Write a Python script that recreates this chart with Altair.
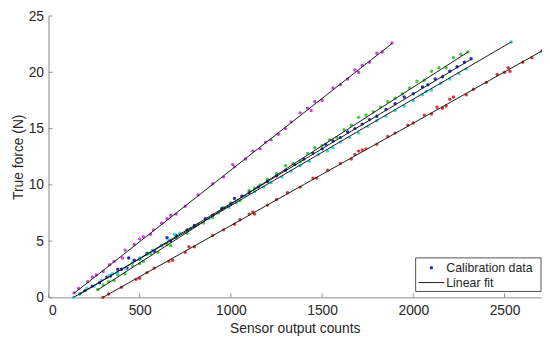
import altair as alt
import pandas as pd

# ---- data ----
purple_x = [140, 165, 215, 240, 262, 300, 335, 360, 405, 420, 470, 500, 520, 560, 575, 620, 650, 670, 700, 750,
            820, 900, 960, 1010, 1020, 1080, 1120, 1160, 1190, 1220, 1260, 1300, 1330, 1380, 1420, 1440, 1460, 1500,
            1560, 1600, 1640, 1680, 1700, 1720, 1760, 1800, 1830, 1883]
purple_y = [0.4, 0.8, 1.4, 1.8, 2.0, 2.3, 2.9, 3.2, 3.5, 4.2, 4.7, 5.2, 5.4, 5.6, 6.0, 6.6, 7.0, 7.3, 7.4, 8.1,
            9.1, 10.1, 10.7, 11.8, 11.6, 12.3, 13.0, 13.2, 13.8, 14.0, 14.5, 15.0, 15.6, 16.4, 16.8, 16.6, 17.4, 17.5,
            18.6, 18.9, 19.4, 20.2, 20.0, 20.6, 20.9, 21.7, 21.8, 22.6]

green_x = [270, 300, 330, 360, 380, 420, 460, 500, 520, 560, 600, 650, 670, 700, 760, 800, 850, 900, 960, 1000,
           1050, 1100, 1130, 1160, 1200, 1250, 1300, 1340, 1380, 1420, 1460, 1500, 1540, 1580, 1620, 1660, 1700,
           1740, 1780, 1820, 1860, 1900, 1940, 1980, 2020, 2060, 2100, 2140, 2180, 2220, 2260, 2299]
green_y = [0.7, 1.1, 1.4, 1.5, 2.0, 2.1, 2.8, 3.0, 3.2, 3.9, 4.0, 4.7, 4.6, 5.3, 5.7, 6.3, 6.6, 7.1, 8.0, 8.4,
           8.6, 9.5, 9.7, 10.0, 10.5, 11.0, 11.7, 11.9, 12.1, 12.8, 13.3, 13.5, 14.0, 14.2, 14.9, 15.3, 16.0,
           16.2, 16.5, 16.9, 17.4, 17.7, 18.1, 18.6, 19.2, 19.3, 20.1, 20.4, 20.4, 21.3, 21.6, 21.8]

blue_x = [171, 200, 240, 280, 320, 340, 380, 400, 430, 440, 470, 500, 540, 580, 620, 650, 670, 700, 760, 800,
          860, 900, 950, 1000, 1020, 1060, 1100, 1150, 1200, 1250, 1300, 1350, 1400, 1450, 1500, 1520, 1560, 1600,
          1640, 1680, 1720, 1760, 1800, 1850, 1900, 1950, 2000, 2050, 2080, 2120, 2160, 2200, 2240, 2280, 2317]
blue_y = [0.3, 0.6, 1.0, 1.3, 1.8, 1.9, 2.5, 2.5, 2.6, 3.5, 3.3, 3.4, 3.9, 4.1, 4.6, 5.3, 5.0, 5.5, 6.0, 6.4,
          7.0, 7.3, 7.9, 8.3, 8.8, 9.0, 9.3, 9.8, 10.3, 10.8, 11.3, 11.8, 12.3, 12.8, 13.2, 13.6, 13.9, 14.2,
          14.7, 15.0, 15.4, 15.8, 16.1, 16.7, 17.2, 17.8, 18.1, 18.7, 18.9, 19.4, 19.6, 20.1, 20.5, 20.9, 21.2]

cyan_x = [137, 170, 210, 250, 290, 330, 350, 380, 420, 460, 500, 540, 570, 620, 660, 690, 720, 780, 820, 880,
          930, 990, 1030, 1080, 1130, 1180, 1220, 1280, 1330, 1380, 1430, 1480, 1530, 1560, 1600, 1650, 1700,
          1750, 1800, 1850, 1900, 1950, 2000, 2050, 2070, 2100, 2150, 2200, 2250, 2290, 2537]
cyan_y = [0.0, 0.3, 0.8, 1.0, 1.5, 1.9, 2.1, 2.2, 2.6, 3.1, 3.5, 3.8, 4.2, 4.6, 5.1, 5.6, 5.7, 6.1, 6.5, 7.0,
          7.5, 8.0, 8.4, 9.0, 9.4, 9.8, 10.2, 10.7, 11.2, 11.7, 12.1, 12.7, 13.0, 13.3, 13.8, 14.2, 14.6,
          15.2, 15.7, 16.1, 16.6, 17.0, 17.5, 18.0, 18.3, 18.4, 19.0, 19.4, 19.9, 20.3, 22.7]

red_x = [298, 330, 400, 480, 500, 540, 580, 660, 680, 750, 770, 800, 900, 960, 1020, 1050, 1100, 1120, 1130,
         1200, 1250, 1310, 1380, 1450, 1470, 1530, 1600, 1660, 1680, 1700, 1720, 1740, 1800, 1860, 1900, 1970,
         2000, 2060, 2100, 2130, 2160, 2180, 2200, 2220, 2290, 2330, 2400, 2460, 2500, 2520, 2530, 2600, 2650, 2705]
red_y = [0.0, 0.3, 0.9, 1.6, 1.7, 2.2, 2.6, 3.2, 3.3, 4.0, 4.5, 4.5, 5.5, 6.0, 6.5, 6.9, 7.4, 7.6, 7.4,
         8.2, 8.7, 9.3, 9.8, 10.6, 10.6, 11.3, 11.9, 12.3, 12.7, 13.0, 13.1, 13.2, 13.6, 14.3, 14.6, 15.3,
         15.5, 16.2, 16.3, 16.9, 16.8, 17.0, 17.6, 17.8, 18.0, 18.5, 19.1, 19.8, 20.0, 20.4, 20.1, 20.9, 21.3, 21.9]

# linear fit end points per series
fit_series = ["purple", "green", "blue", "cyan", "red"]
fit_x0 = [140, 267, 171, 137, 298]
fit_y0 = [0.36, 0.64, 0.26, 0.0, 0.0]
fit_x1 = [1883, 2299, 2317, 2537, 2705]
fit_y1 = [22.56, 21.8, 21.17, 22.7, 21.9]

series_names = ["purple", "green", "blue", "cyan", "red"]
series_colors = ["#cc44dd", "#3fcc3f", "#2b2bb5", "#33d8e0", "#dd3838"]

x_ticks = [0, 500, 1000, 1500, 2000, 2500]
y_ticks = [0, 5, 10, 15, 20, 25]

# ---- tables ----
rows = []
for name, xs, ys in [("purple", purple_x, purple_y), ("green", green_x, green_y),
                     ("blue", blue_x, blue_y), ("cyan", cyan_x, cyan_y), ("red", red_x, red_y)]:
    for a, b in zip(xs, ys):
        rows.append({"series": name, "x": a, "y": b})
pts = pd.DataFrame(rows)

fit = pd.DataFrame({"series": fit_series, "x": fit_x0, "y": fit_y0, "x2": fit_x1, "y2": fit_y1})

W, H = 499, 285
xscale = alt.Scale(domain=[0, 2700], nice=False, zero=False)
yscale = alt.Scale(domain=[0, 25], nice=False, zero=False)

axis_common = dict(ticks=False, grid=False, domainColor="#8a8a8a", domainWidth=1,
                   labelColor="#262626", titleColor="#262626", labelFont="Liberation Sans",
                   titleFont="Liberation Sans", labelFontSize=14, titleFontSize=14,
                   titleFontWeight="normal", format="d")

points = alt.Chart(pts).mark_circle(size=12, opacity=1).encode(
    x=alt.X("x:Q", scale=xscale, axis=alt.Axis(values=x_ticks, title="Sensor output counts",
                                                labelPadding=6, titlePadding=5, **axis_common)),
    y=alt.Y("y:Q", scale=yscale, axis=alt.Axis(values=y_ticks, title="True force (N)",
                                                labelPadding=5, titlePadding=3, **axis_common)),
    color=alt.Color("series:N", scale=alt.Scale(domain=series_names, range=series_colors), legend=None),
)

lines = alt.Chart(fit).mark_rule(color="#1a1a1a", strokeWidth=1).encode(
    x=alt.X("x:Q", scale=xscale), y=alt.Y("y:Q", scale=yscale),
    x2="x2:Q", y2="y2:Q",
)

xt = alt.Chart(pd.DataFrame({"t": x_ticks})).mark_rule(color="#8a8a8a", strokeWidth=1).encode(
    x=alt.X("t:Q", scale=xscale), y=alt.value(H), y2=alt.value(H - 4))
yt = alt.Chart(pd.DataFrame({"t": y_ticks})).mark_rule(color="#8a8a8a", strokeWidth=1).encode(
    y=alt.Y("t:Q", scale=yscale), x=alt.value(0), x2=alt.value(4))

one = pd.DataFrame({"k": [0]})
LT = H - 40  # legend box top inside plot
leg_box = alt.Chart(one).mark_rect(fill="white", stroke="#262626", strokeWidth=0.8).encode(
    x=alt.value(372), x2=alt.value(W), y=alt.value(LT), y2=alt.value(LT + 34))
leg_dot = alt.Chart(one).mark_circle(size=12, opacity=1, color="#2b2bb5").encode(
    x=alt.value(388), y=alt.value(LT + 10))
leg_line = alt.Chart(one).mark_rule(color="#1a1a1a", strokeWidth=1).encode(
    x=alt.value(375), x2=alt.value(401), y=alt.value(LT + 25), y2=alt.value(LT + 25))
leg_t1 = alt.Chart(one).mark_text(text="Calibration data", align="left", baseline="middle",
                                  font="Liberation Sans", fontSize=12.5, color="#262626").encode(
    x=alt.value(403), y=alt.value(LT + 10))
leg_t2 = alt.Chart(one).mark_text(text="Linear fit", align="left", baseline="middle",
                                  font="Liberation Sans", fontSize=12.5, color="#262626").encode(
    x=alt.value(403), y=alt.value(LT + 25))

chart = alt.layer(points, lines, xt, yt, leg_box, leg_dot, leg_line, leg_t1, leg_t2).properties(
    width=W, height=H,
    autosize=alt.AutoSizeParams(type="none"),
    padding={"left": 41, "top": 6, "right": 1, "bottom": 40},
).configure_view(stroke=None)

chart.save("out.html", embed_options={"renderer": "svg", "actions": False})
